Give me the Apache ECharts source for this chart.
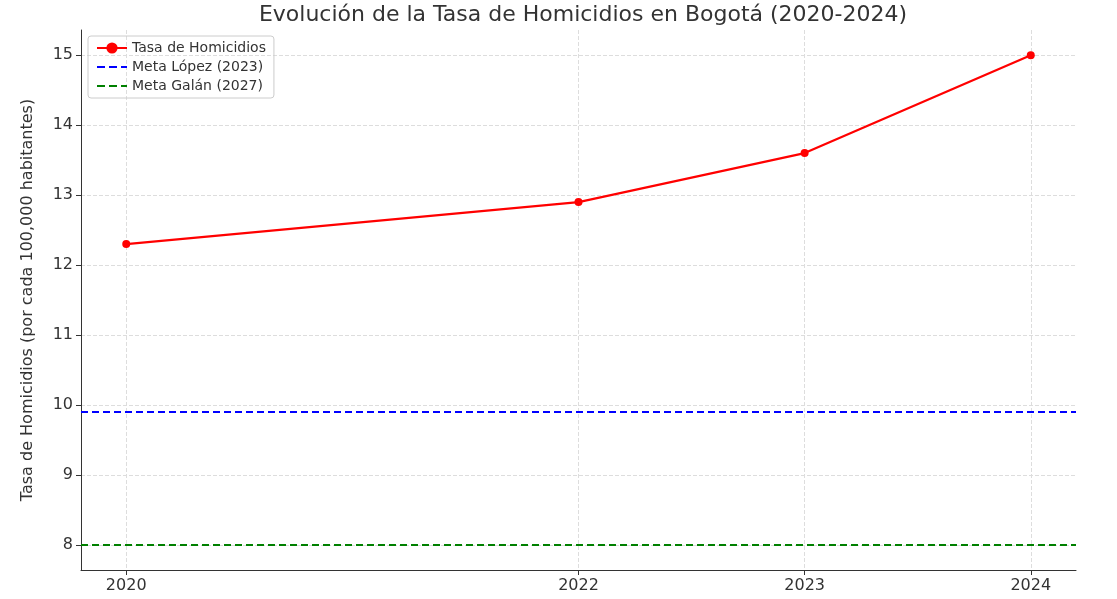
<!DOCTYPE html><html><head><meta charset="utf-8"><script src="https://cdn.jsdelivr.net/npm/echarts@6/dist/echarts.min.js"></script></head><body style="margin:0"><div id="c" style="width:1117px;height:599px"></div><script>
const years=[2020,2022,2023,2024];
const tasa=[12.3,12.9,13.6,15.0];
const metaLopez=9.9, metaGalan=8.0;
const yTicks=[8,9,10,11,12,13,14,15];
const f='DejaVu Sans';
const ch=echarts.init(document.getElementById('c'));
ch.setOption({
 title:{text:'Evolución de la Tasa de Homicidios en Bogotá (2020-2024)',left:578,textAlign:'center',top:-1,textStyle:{fontFamily:f,fontWeight:'normal',fontSize:22,color:'#333'}},
 legend:{orient:'vertical',left:88,top:36,padding:[5,8],itemGap:5,borderColor:'#ccc',borderWidth:1,borderRadius:3,itemWidth:30,textStyle:{fontFamily:f,fontSize:14,color:'#333'},
  data:['Tasa de Homicidios',{name:'Meta López (2023)',itemStyle:{opacity:0}},{name:'Meta Galán (2027)',itemStyle:{opacity:0}}]},
 grid:{left:81,right:41,top:30,bottom:29},
 xAxis:{type:'value',min:2019.8,max:2024.2,axisLine:{lineStyle:{color:'#333'}},axisTick:{customValues:years,lineStyle:{color:'#333'}},
  axisLabel:{customValues:years,formatter:v=>String(v),fontFamily:f,fontSize:16,color:'#333'},
  splitLine:{show:true,lineStyle:{type:'dashed',color:'#ddd'}}},
 yAxis:{type:'value',min:7.64,max:15.36,name:'Tasa de Homicidios (por cada 100,000 habitantes)',nameLocation:'middle',nameGap:45,nameTextStyle:{fontFamily:f,fontSize:16,color:'#333'},
  axisLine:{show:true,lineStyle:{color:'#333'}},axisTick:{show:true,customValues:yTicks},
  axisLabel:{customValues:yTicks,fontFamily:f,fontSize:16,color:'#333'},
  splitLine:{show:true,lineStyle:{type:'dashed',color:'#ddd'}}},
 series:[
  {name:'Tasa de Homicidios',type:'line',data:years.map((y,i)=>[y,tasa[i]]),color:'#ff0000',symbol:'circle',symbolSize:8,lineStyle:{width:2.2}},
  {name:'Meta López (2023)',type:'line',data:[],color:'#0000ff',lineStyle:{type:'dashed',width:2},symbol:'none',
   markLine:{symbol:'none',silent:true,label:{show:false},lineStyle:{color:'#0000ff',type:[7,4],width:2},data:[{yAxis:metaLopez}]}},
  {name:'Meta Galán (2027)',type:'line',data:[],color:'#008000',lineStyle:{type:'dashed',width:2},symbol:'none',
   markLine:{symbol:'none',silent:true,label:{show:false},lineStyle:{color:'#008000',type:[7,4],width:2},data:[{yAxis:metaGalan}]}}
 ]
});
</script></body></html>
